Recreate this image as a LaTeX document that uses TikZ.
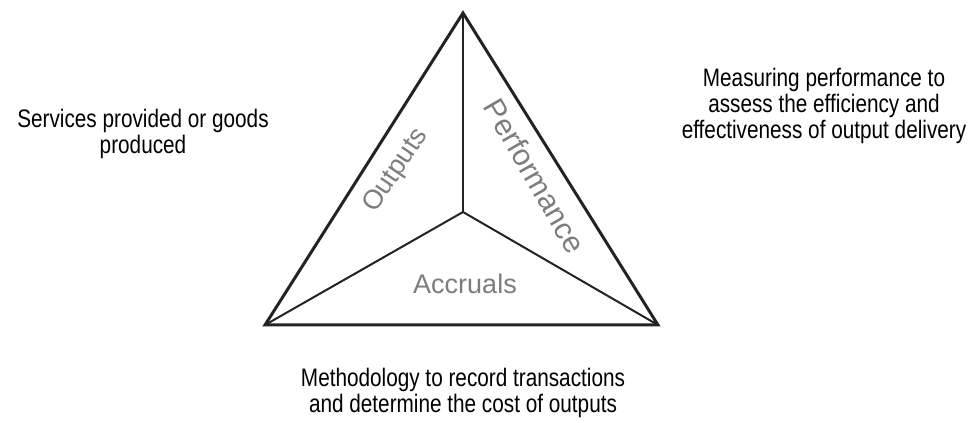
\documentclass[tikz,border=0pt]{standalone}
\usepackage{fontspec}
\setmainfont{Liberation Sans}
\newfontfamily\narrowfont[FakeStretch=0.82]{Liberation Sans}
\definecolor{edgegray}{RGB}{35,35,35}
\definecolor{labelgray}{RGB}{125,125,125}
\tikzset{
    edge/.style={draw=edgegray, line width=3pt},
    spoke/.style={draw=edgegray, line width=2pt},
    side/.style={text=labelgray, inner sep=0pt, font=\fontsize{27}{27}\selectfont},
    note/.style={align=center, inner sep=0pt, font=\narrowfont\fontsize{25.3}{26}\selectfont}
}

\begin{document}
\begin{tikzpicture}[x=1pt,y=1pt]
    \useasboundingbox (0,0) rectangle (970,423);
    % corners and centre of the triangle
    \coordinate (apex) at (463,410);
    \coordinate (left) at (265,98);
    \coordinate (right) at (658,98);
    \coordinate (hub) at (463,211);
    \draw[edge] (apex) -- (right) -- (left) -- cycle;
    \foreach \c in {apex,left,right}
        \draw[spoke] (hub) -- (\c);
    % the three sides
    \node[side, rotate=56] (outputs) at (396,252) {Outputs};
    \node[side, rotate=-60, font=\fontsize{30}{30}\selectfont] (performance) at (535,247) {Performance};
    \node[side] (accruals) at (465,139) {Accruals};
    % notes around it
    \node[note] (outputsnote) at (143,289) {Services provided or goods\\produced};
    \node[note] (performancenote) at (824,317) {Measuring performance to\\assess the efficiency and\\effectiveness of output delivery};
    \node[note] (accrualsnote) at (463,30) {Methodology to record transactions\\and determine the cost of outputs};
\end{tikzpicture}
\end{document}
